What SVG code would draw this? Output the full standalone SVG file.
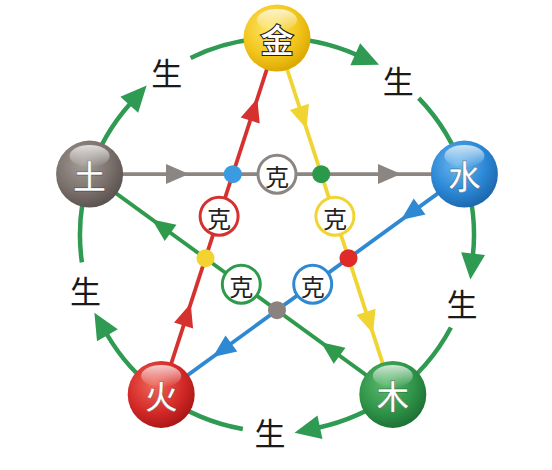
<svg xmlns="http://www.w3.org/2000/svg" xmlns:xlink="http://www.w3.org/1999/xlink" width="552" height="470" viewBox="0 0 552 470">
<defs>
<style>
.arc{fill:none;stroke:#2e9a52;stroke-width:4.5}
.star{fill:none;stroke-width:3.8}
.k{fill:#fff;stroke-width:3}
.kt{font-family:"Noto Sans CJK SC","Noto Sans CJK JP",sans-serif;font-size:24px;fill:#222;text-anchor:middle;dominant-baseline:central}
.sheng{font-family:"Noto Sans CJK SC","Noto Sans CJK JP",sans-serif;font-size:31px;fill:#1a1a1a;text-anchor:middle;dominant-baseline:central}
.nt{font-family:"Noto Sans CJK SC","Noto Sans CJK JP",sans-serif;font-size:33px;font-weight:500;fill:#fff;text-anchor:middle;dominant-baseline:central;stroke:rgba(0,0,0,0.35);stroke-width:0.8}
.gloss{fill:url(#gl)}
</style>
<marker id="ga" markerUnits="userSpaceOnUse" markerWidth="26" markerHeight="24" refX="2" refY="12" orient="auto" viewBox="0 0 26 24" overflow="visible"><path d="M0,0 L26,12 L0,24 z" fill="#2e9a52"/></marker>
<path id="tri" d="M0,0 L-23,-10 L-23,10 z"/>
<radialGradient id="gGold" cx="0.4" cy="0.35" r="0.7"><stop offset="0" stop-color="#fde66e"/><stop offset="0.6" stop-color="#f3c61c"/><stop offset="1" stop-color="#d9a400"/></radialGradient>
<radialGradient id="gGray" cx="0.4" cy="0.35" r="0.7"><stop offset="0" stop-color="#a59d99"/><stop offset="0.6" stop-color="#7a706c"/><stop offset="1" stop-color="#574f4c"/></radialGradient>
<radialGradient id="gBlue" cx="0.4" cy="0.35" r="0.7"><stop offset="0" stop-color="#6db8ef"/><stop offset="0.6" stop-color="#2b88d6"/><stop offset="1" stop-color="#1b62a6"/></radialGradient>
<radialGradient id="gRed" cx="0.4" cy="0.35" r="0.7"><stop offset="0" stop-color="#f0685a"/><stop offset="0.6" stop-color="#d42a28"/><stop offset="1" stop-color="#a51414"/></radialGradient>
<radialGradient id="gGreen" cx="0.4" cy="0.35" r="0.7"><stop offset="0" stop-color="#5dba6e"/><stop offset="0.6" stop-color="#2e9448"/><stop offset="1" stop-color="#1d6c32"/></radialGradient>
<linearGradient id="gl" x1="0" y1="0" x2="0" y2="1"><stop offset="0" stop-color="#fff" stop-opacity="0.75"/><stop offset="1" stop-color="#fff" stop-opacity="0"/></linearGradient>
</defs>
<rect width="552" height="470" fill="#fff"/>

<g id="connectors">
  <!-- outer 生 cycle -->
  <path class="arc" d="M89.6,174.1 A197,197 0 0 1 130.6,103.2" marker-end="url(#ga)"/>
  <path class="arc" d="M190.6,57.9 A197,197 0 0 1 277,38"/>
  <path class="arc" d="M277,38 A197,197 0 0 1 357.1,55.0" marker-end="url(#ga)"/>
  <path class="arc" d="M418.7,98.1 A197,197 0 0 1 464.4,174.1"/>
  <path class="arc" d="M464.4,174.1 A197,197 0 0 1 472.9,255.6" marker-end="url(#ga)"/>
  <path class="arc" d="M450.9,327.5 A197,197 0 0 1 392.8,394.4"/>
  <path class="arc" d="M392.8,394.4 A197,197 0 0 1 318.0,427.7" marker-end="url(#ga)"/>
  <path class="arc" d="M242.8,429.0 A197,197 0 0 1 161.2,394.4"/>
  <path class="arc" d="M161.2,394.4 A197,197 0 0 1 106.4,333.5" marker-end="url(#ga)"/>
  <path class="arc" d="M81.9,262.4 A197,197 0 0 1 89.6,174.1"/>

  <!-- inner 克 star -->
  <line class="star" stroke="#8c8682" x1="89.6" y1="174.1" x2="464.4" y2="174.1"/>
  <line class="star" stroke="#f0d431" x1="277" y1="38" x2="392.8" y2="394.4"/>
  <line class="star" stroke="#2f88d2" x1="464.4" y1="174.1" x2="161.2" y2="394.4"/>
  <line class="star" stroke="#2f9a4c" x1="392.8" y1="394.4" x2="89.6" y2="174.1"/>
  <line class="star" stroke="#d4312f" x1="161.2" y1="394.4" x2="277" y2="38"/>

  <use href="#tri" fill="#8c8682" transform="translate(189,174.1)"/>
  <use href="#tri" fill="#8c8682" transform="translate(401,174.1)"/>
  <use href="#tri" fill="#f0d431" transform="translate(306.5,128.8) rotate(72)"/>
  <use href="#tri" fill="#f0d431" transform="translate(373.1,333.8) rotate(72)"/>
  <use href="#tri" fill="#2f88d2" transform="translate(401,220) rotate(144)"/>
  <use href="#tri" fill="#2f88d2" transform="translate(212.8,357.0) rotate(144)"/>
  <use href="#tri" fill="#2f9a4c" transform="translate(321,342.2) rotate(216)"/>
  <use href="#tri" fill="#2f9a4c" transform="translate(152,219.4) rotate(216)"/>
  <use href="#tri" fill="#d4312f" transform="translate(190.7,303.6) rotate(-72)"/>
  <use href="#tri" fill="#d4312f" transform="translate(257.3,98.6) rotate(-72)"/>
</g>

<g id="labels">
  <circle cx="232.8" cy="174.2" r="9" fill="#3a9be0"/>
  <circle cx="321.2" cy="174.2" r="9" fill="#2a9a4a"/>
  <circle cx="348.5" cy="258.2" r="9" fill="#e02a2a"/>
  <circle cx="277" cy="310.2" r="9" fill="#8a827f"/>
  <circle cx="205.5" cy="258.2" r="9" fill="#f2d330"/>

  <g id="k-gray"><circle class="k" stroke="#8c8682" cx="277" cy="174.2" r="19"/><text class="kt" x="277" y="175">克</text></g>
  <g id="k-yellow"><circle class="k" stroke="#f0d431" cx="334.9" cy="216.2" r="19"/><text class="kt" x="334.9" y="217">克</text></g>
  <g id="k-red"><circle class="k" stroke="#d4312f" cx="219.1" cy="216.2" r="19"/><text class="kt" x="219.1" y="217">克</text></g>
  <g id="k-green"><circle class="k" stroke="#2f9a4c" cx="241.3" cy="284.2" r="19"/><text class="kt" x="241.3" y="285">克</text></g>
  <g id="k-blue"><circle class="k" stroke="#2f88d2" cx="312.7" cy="284.2" r="19"/><text class="kt" x="312.7" y="285">克</text></g>

  <text class="sheng" x="166.8" y="71.7">生</text>
  <text class="sheng" x="398.3" y="79.8">生</text>
  <text class="sheng" x="462.1" y="302.4">生</text>
  <text class="sheng" x="270.1" y="431.9">生</text>
  <text class="sheng" x="85.6" y="289.3">生</text>
</g>

<g id="node-jin">
  <circle cx="277" cy="38" r="33.5" fill="url(#gGold)"/>
  <ellipse class="gloss" cx="277" cy="20" rx="20" ry="11"/>
  <text class="nt" x="277" y="39" style="stroke:#222;stroke-width:2.2;paint-order:stroke">金</text>
</g>
<g id="node-tu">
  <circle cx="89.6" cy="174.1" r="33.5" fill="url(#gGray)"/>
  <ellipse class="gloss" cx="89.6" cy="156" rx="20" ry="11"/>
  <text class="nt" x="89.6" y="175">土</text>
</g>
<g id="node-shui">
  <circle cx="464.4" cy="174.1" r="33.5" fill="url(#gBlue)"/>
  <ellipse class="gloss" cx="464.4" cy="156" rx="20" ry="11"/>
  <text class="nt" x="464.4" y="175">水</text>
</g>
<g id="node-huo">
  <circle cx="161.2" cy="394.4" r="33.5" fill="url(#gRed)"/>
  <ellipse class="gloss" cx="161.2" cy="376" rx="20" ry="11"/>
  <text class="nt" x="161.2" y="395">火</text>
</g>
<g id="node-mu">
  <circle cx="392.8" cy="394.4" r="33.5" fill="url(#gGreen)"/>
  <ellipse class="gloss" cx="392.8" cy="376" rx="20" ry="11"/>
  <text class="nt" x="392.8" y="395">木</text>
</g>
</svg>
